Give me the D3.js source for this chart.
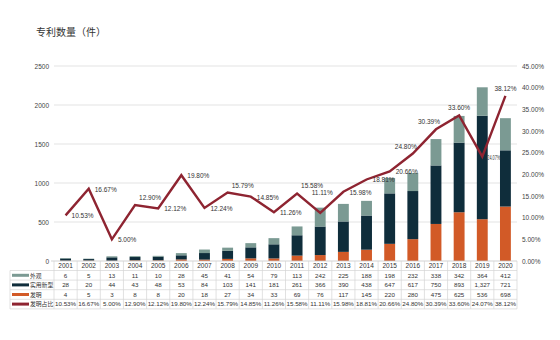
<!DOCTYPE html>
<html>
<head>
<meta charset="utf-8">
<script src="https://cdn.jsdelivr.net/npm/d3@7"></script>
<style>
  body { margin: 0; background: #fff; }
  svg { display: block; font-family: "Noto Sans CJK SC", "Noto Sans", sans-serif; }
</style>
</head>
<body>
<script>
// patent counts per year, stacked bars + invention share line
var years = ['2001','2002','2003','2004','2005','2006','2007','2008','2009','2010',
             '2011','2012','2013','2014','2015','2016','2017','2018','2019','2020'];
var design  = [6, 5, 13, 11, 10, 28, 45, 41, 54, 79, 113, 242, 225, 188, 198, 232, 338, 342, 364, 412];
var utility = [28, 20, 44, 43, 48, 53, 84, 103, 141, 181, 261, 366, 390, 438, 647, 617, 750, 893, 1327, 721];
var invent  = [4, 5, 3, 8, 8, 20, 18, 27, 34, 33, 69, 76, 117, 145, 220, 280, 475, 625, 536, 698];
var share   = [10.53, 16.67, 5.00, 12.90, 12.12, 19.80, 12.24, 15.79, 14.85, 11.26,
               15.58, 11.11, 15.98, 18.81, 20.66, 24.80, 30.39, 33.60, 24.07, 38.12];
var leftTicks  = [0, 500, 1000, 1500, 2000, 2500];
var rightTicks = [0, 5, 10, 15, 20, 25, 30, 35, 40, 45];
// where each percentage label sits relative to its point
var labelSide = ['r','r','r','ar','r','r','r','ar','r','r',
                 'ar','hi','r','r','r','al','al','a','rn','a'];

var W = 560, H = 340;
var svg = d3.select('body').append('svg').attr('width', W).attr('height', H);

var x0 = 54, x1 = 517, yTop = 66, yBase = 261;
var x = d3.scaleBand().domain(years).range([x0, x1]).paddingInner(0.53).paddingOuter(0.265);
var xc = d3.scaleBand().domain(years).range([x0, x1]);
var y = d3.scaleLinear().domain([0, 2500]).range([yBase, yTop]);
var y2 = d3.scaleLinear().domain([0, 45]).range([yBase, yTop]);

var colors = { design: '#7b9a93', utility: '#0f2d3b', invent: '#d25a27', line: '#8e2431' };
var numFont = 'Liberation Sans, sans-serif';

svg.append('text').attr('x', 36).attr('y', 36).attr('font-size', 10).attr('fill', '#333')
  .text('专利数量（件）');

// grid
svg.append('g').selectAll('line').data(leftTicks.slice(1)).enter().append('line')
  .attr('x1', x0).attr('x2', x1).attr('y1', function (d) { return y(d); }).attr('y2', function (d) { return y(d); })
  .attr('stroke', '#dcdcdc').attr('stroke-width', 0.8);

// left axis
var gl = svg.append('g').attr('transform', 'translate(' + x0 + ',0)')
  .call(d3.axisLeft(y).tickValues(leftTicks).tickSize(0).tickPadding(5).tickFormat(d3.format('d')));
gl.select('.domain').remove();
gl.selectAll('text').attr('font-size', 6.5).attr('fill', '#444').attr('font-family', numFont);

// right axis
var gr = svg.append('g').attr('transform', 'translate(' + (x1 + 2) + ',0)')
  .call(d3.axisRight(y2).tickValues(rightTicks).tickSize(0).tickPadding(3)
    .tickFormat(function (d) { return d.toFixed(2) + '%'; }));
gr.select('.domain').remove();
gr.selectAll('text').attr('font-size', 6.5).attr('fill', '#444').attr('font-family', numFont);

// stacked bars
var rows = years.map(function (yr, i) { return { year: yr, invent: invent[i], utility: utility[i], design: design[i] }; });
var stack = d3.stack().keys(['invent', 'utility', 'design'])(rows);
svg.append('g').selectAll('g').data(stack).enter().append('g')
  .attr('fill', function (s) { return colors[s.key]; })
  .selectAll('rect').data(function (s) { return s; }).enter().append('rect')
  .attr('x', function (d) { return x(d.data.year); })
  .attr('width', x.bandwidth())
  .attr('y', function (d) { return y(d[1]); })
  .attr('height', function (d) { return y(d[0]) - y(d[1]); });

// baseline
svg.append('line').attr('x1', x0 - 3).attr('x2', x1).attr('y1', yBase).attr('y2', yBase)
  .attr('stroke', '#c8c8c8').attr('stroke-width', 0.8);

// share line
var cx = function (i) { return xc(years[i]) + xc.bandwidth() / 2; };
svg.append('path').datum(share)
  .attr('d', d3.line().x(function (d, i) { return cx(i); }).y(function (d) { return y2(d); }))
  .attr('fill', 'none').attr('stroke', colors.line).attr('stroke-width', 2.4).attr('stroke-linejoin', 'miter');

var pl = svg.append('g').selectAll('text').data(share).enter().append('text')
  .attr('font-size', 6.5).attr('fill', '#333').attr('font-family', numFont)
  .attr('x', function (d, i) {
    var s = labelSide[i];
    if (s === 'r') return cx(i) + 6;
    if (s === 'rn') return cx(i) + 5;
    if (s === 'ar') return cx(i) + 4;
    if (s === 'al') return cx(i) - 7;
    if (s === 'hi') return cx(i) + 2;
    return cx(i);
  })
  .attr('y', function (d, i) {
    var s = labelSide[i];
    if (s === 'r' || s === 'rn') return y2(d) + 3;
    if (s === 'hi') return y2(d) - 18;
    return y2(d) - 5;
  })
  .attr('text-anchor', function (d, i) {
    var s = labelSide[i];
    if (s === 'r' || s === 'ar' || s === 'rn') return 'start';
    return 'middle';
  })
  .text(function (d) { return d.toFixed(2) + '%'; });
// squeezed label between two tall bars
pl.filter(function (d, i) { return labelSide[i] === 'rn'; })
  .attr('textLength', 13).attr('lengthAdjust', 'spacingAndGlyphs');

// data table
var tL = 10, rowTop = 270.5, rowH = 9.6;
var tRows = [
  { name: '外观', color: colors.design, vals: design.map(d3.format(',')) },
  { name: '实用新型', color: colors.utility, vals: utility.map(d3.format(',')) },
  { name: '发明', color: colors.invent, vals: invent.map(d3.format(',')) },
  { name: '发明占比', color: colors.line, vals: share.map(function (d) { return d.toFixed(2) + '%'; }) }
];
var tBottom = rowTop + rowH * tRows.length;
var tg = svg.append('g');

// year header
tg.selectAll('text.yr').data(years).enter().append('text').attr('class', 'yr')
  .attr('x', function (d) { return xc(d) + xc.bandwidth() / 2; }).attr('y', 268)
  .attr('text-anchor', 'middle').attr('font-size', 6.5).attr('fill', '#333')
  .attr('font-family', numFont).text(function (d) { return d; });

// horizontal rules
tg.selectAll('line.h').data(d3.range(tRows.length + 1)).enter().append('line')
  .attr('x1', tL).attr('x2', x1).attr('y1', function (i) { return rowTop + i * rowH; })
  .attr('y2', function (i) { return rowTop + i * rowH; })
  .attr('stroke', '#d4d4d4').attr('stroke-width', 0.7);
// vertical rules
var vx = years.map(function (d) { return xc(d); }).concat([x1]);
tg.selectAll('line.v').data(vx).enter().append('line')
  .attr('x1', function (d) { return d; }).attr('x2', function (d) { return d; })
  .attr('y1', yBase).attr('y2', tBottom)
  .attr('stroke', '#d4d4d4').attr('stroke-width', 0.7);
tg.append('line').attr('x1', tL).attr('x2', tL).attr('y1', rowTop).attr('y2', tBottom)
  .attr('stroke', '#d4d4d4').attr('stroke-width', 0.7);

tRows.forEach(function (r, j) {
  var cy = rowTop + j * rowH + rowH / 2;
  tg.append('line').attr('x1', tL + 2).attr('x2', tL + 19).attr('y1', cy).attr('y2', cy)
    .attr('stroke', r.color).attr('stroke-width', 3);
  tg.append('text').attr('x', tL + 20).attr('y', cy + 2.2).attr('font-size', 5.8).attr('fill', '#333')
    .text(r.name);
  tg.selectAll(null).data(r.vals).enter().append('text')
    .attr('x', function (d, i) { return cx(i); }).attr('y', cy + 2.3)
    .attr('text-anchor', 'middle').attr('font-size', 6.2).attr('fill', '#333')
    .attr('font-family', numFont)
    .text(function (d) { return d; });
});
</script>
</body>
</html>
